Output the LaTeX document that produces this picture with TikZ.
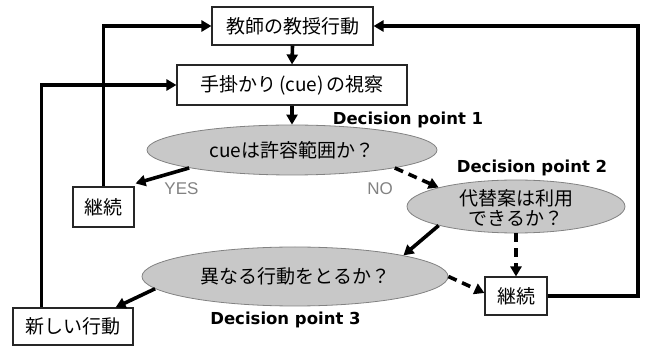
\documentclass[tikz,border=0pt]{standalone}
\usepackage{fontspec}
\newfontfamily\jp{Noto Sans CJK JP}
\newfontfamily\dpf{DejaVu Sans}
\newfontfamily\lsans{Liberation Sans}
\usetikzlibrary{arrows.meta,shapes.geometric,calc}
\definecolor{ellfill}{RGB}{200,200,200}
\definecolor{ellline}{RGB}{130,130,130}
\definecolor{yesno}{RGB}{130,130,130}
\tikzset{
  boxnode/.style={draw=black!85,line width=1.1pt,fill=white,rectangle,inner sep=0pt,
    font=\jp\fontsize{19}{21}\selectfont},
  dpell/.style={ellipse,draw=ellline,line width=0.8pt,fill=ellfill,inner sep=0pt},
  jtext/.style={font=\jp\fontsize{19}{20.5}\selectfont,align=center,inner sep=0pt},
  dplabel/.style={font=\dpf\bfseries\fontsize{16.5}{18}\selectfont,inner sep=0pt},
  ynlabel/.style={font=\lsans\fontsize{17}{18}\selectfont,text=yesno,inner sep=0pt},
  arr/.style={line width=3.6pt,-{Triangle[length=10pt,width=11pt]}},
  darr/.style={arr,dash pattern=on 9pt off 6pt},
  plain/.style={line width=3.6pt}
}
\begin{document}
\begin{tikzpicture}[x=1pt,y=-1pt]
\useasboundingbox (0,0) rectangle (646,347);
% boxes
\node[boxnode,minimum width=161pt,minimum height=38pt] (A) at (292.5,26) {教師の教授行動};
\node[boxnode,minimum width=230pt,minimum height=40pt] (B) at (292,85) {手掛かり\,(cue)\,の視察};
\node[boxnode,minimum width=61pt,minimum height=40pt] (K1) at (103.5,207) {継続};
\node[boxnode,minimum width=62pt,minimum height=38pt] (K2) at (516,296) {継続};
\node[boxnode,minimum width=120pt,minimum height=37pt] (N) at (73,326.5) {新しい行動};
% ellipses
\node[dpell,minimum width=290pt,minimum height=50pt] (E1) at (292,150) {};
\node[jtext] (E1t) at (E1) {cueは許容範囲か？};
\node[dpell,minimum width=218pt,minimum height=53pt] (E2) at (516,206.5) {};
\node[jtext] (E2t) at ([yshift=-1.5pt]E2.center) {代替案は利用\\できるか？};
\node[dpell,minimum width=306pt,minimum height=59pt] (E3) at (295,276.5) {};
\node[jtext] (E3t) at (E3) {異なる行動をとるか？};
% labels
\node[dplabel] (D1) at (408,120) {Decision point 1};
\node[dplabel] (D2) at (532,168) {Decision point 2};
\node[dplabel] (D3) at (285.5,320) {Decision point 3};
\node[ynlabel] (YES) at (181.5,189) {YES};
\node[ynlabel] (NO) at (380,189) {NO};
% coordinates
\coordinate (Rtop) at (638,26);
% connectors
\draw[arr] (A.south) -- (B.north);
\draw[arr] (B.south) -- (E1.north);
\draw[arr] (E1.south west) -- ([xshift=1pt,yshift=3pt]K1.north east);
\draw[darr] (E1.south east) -- (E2.north west);
\draw[arr] (E2.south west) -- (E3.north east);
\draw[darr] (E2.south) -- (K2.north);
\draw[darr] (E3.east) -- ([yshift=3pt]K2.west);
\draw[arr] (E3.185) -- ([xshift=-18pt]N.north east);
\draw[arr] (K1.north) |- (A.west);
\draw[arr] ([xshift=29pt]N.north west) |- (B.west);
\draw[plain] (K2.east) -| (Rtop);
\draw[arr] ([xshift=1.8pt]Rtop) -- (A.east);
\end{tikzpicture}
\end{document}
